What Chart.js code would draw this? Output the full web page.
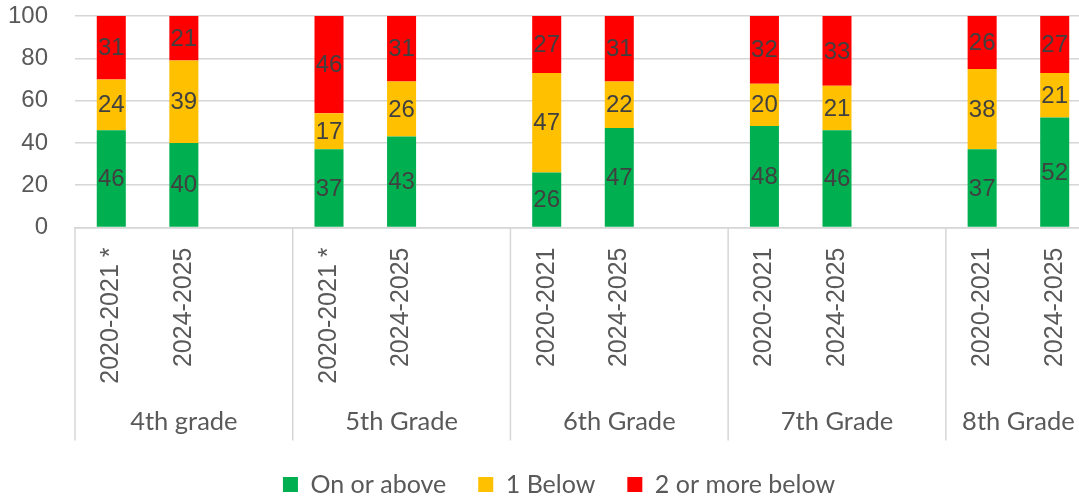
<!DOCTYPE html>
<html>
<head>
<meta charset="utf-8">
<script src="https://cdn.jsdelivr.net/npm/chart.js@4/dist/chart.umd.min.js"></script>
<style>
  html, body { margin: 0; padding: 0; background: #ffffff; overflow: hidden; }
  #wrap { position: absolute; left: 0; top: 0; width: 1118px; height: 507px; }
</style>
</head>
<body>
<div id="wrap"><canvas id="chart"></canvas></div>
<script>
// School years per grade; every grade block has three slots, the third left empty
const categories = [
  '2020-2021 *', '2024-2025', '',
  '2020-2021 *', '2024-2025', '',
  '2020-2021', '2024-2025', '',
  '2020-2021', '2024-2025', '',
  '2020-2021', '2024-2025'
];
const gradeGroups = ['4th grade', '5th Grade', '6th Grade', '7th Grade', '8th Grade'];
const slotsPerGrade = 3;

// Percent of students by level
const onOrAbove = [46, 40, null, 37, 43, null, 26, 47, null, 48, 46, null, 37, 52];
const oneBelow  = [24, 39, null, 17, 26, null, 47, 22, null, 20, 21, null, 38, 21];
const twoOrMore = [31, 21, null, 46, 31, null, 27, 31, null, 32, 33, null, 26, 27];

const seriesNames = ['On or above', '1 Below', '2 or more below'];
const seriesColors = ['#00B050', '#FFC000', '#FF0000'];
const yTicks = [0, 20, 40, 60, 80, 100];

const numFont = 'Liberation Sans, Arial, sans-serif';
const textFont = 'Lato, sans-serif';
const axisText = '#595959';
const lineGray = '#d6d6d6';

// Value labels centred on the visible part of each segment
const segmentLabels = {
  id: 'segmentLabels',
  afterDatasetsDraw(chart) {
    const { ctx, chartArea } = chart;
    ctx.save();
    ctx.font = '24px ' + numFont;
    ctx.fillStyle = '#404040';
    ctx.textAlign = 'center';
    ctx.textBaseline = 'middle';
    chart.data.datasets.forEach((ds, di) => {
      const meta = chart.getDatasetMeta(di);
      meta.data.forEach((bar, i) => {
        const v = ds.data[i];
        if (v === null || v === undefined) return;
        const p = bar.getProps(['x', 'y', 'base'], true);
        const top = Math.max(Math.min(p.y, p.base), chartArea.top);
        const bottom = Math.min(Math.max(p.y, p.base), chartArea.bottom);
        ctx.fillText(String(v), p.x, (top + bottom) / 2 + 1);
      });
    });
    ctx.restore();
  }
};

// Grade names and separators under the year labels
const gradeAxis = {
  id: 'gradeAxis',
  afterDraw(chart) {
    const { ctx } = chart;
    const xs = chart.scales.x;
    const n = categories.length;
    const half = (xs.getPixelForValue(1) - xs.getPixelForValue(0)) / 2;
    const lineTop = xs.top;
    const lineBottom = xs.top + 213;
    ctx.save();
    ctx.strokeStyle = lineGray;
    ctx.lineWidth = 1.5;
    ctx.font = '25.5px ' + textFont;
    ctx.fillStyle = axisText;
    ctx.textAlign = 'center';
    ctx.textBaseline = 'middle';
    gradeGroups.forEach((name, g) => {
      const first = g * slotsPerGrade;
      const last = Math.min(first + slotsPerGrade, n) - 1;
      const left = xs.getPixelForValue(first) - half;
      const right = xs.getPixelForValue(last) + half;
      ctx.beginPath();
      ctx.moveTo(left, lineTop);
      ctx.lineTo(left, lineBottom);
      if (g === gradeGroups.length - 1) {
        ctx.moveTo(right, lineTop);
        ctx.lineTo(right, lineBottom);
      }
      ctx.stroke();
      ctx.fillText(name, (left + right) / 2, xs.top + 194);
    });
    ctx.restore();
  }
};

const series = [onOrAbove, oneBelow, twoOrMore];

new Chart(document.getElementById('chart'), {
  type: 'bar',
  data: {
    labels: categories,
    datasets: series.map((values, k) => ({
      label: seriesNames[k],
      data: values,
      backgroundColor: seriesColors[k],
      borderWidth: 0,
      categoryPercentage: 1,
      barPercentage: 0.4
    }))
  },
  options: {
    responsive: true,
    maintainAspectRatio: false,
    animation: false,
    layout: { padding: { top: 16, left: 0, right: 0, bottom: 0 } },
    plugins: {
      tooltip: { enabled: false },
      legend: {
        position: 'bottom',
        labels: {
          font: { family: textFont, size: 25 },
          color: axisText,
          boxWidth: 15,
          boxHeight: 15,
          padding: 32
        }
      }
    },
    scales: {
      x: {
        stacked: true,
        grid: { display: false, drawTicks: false },
        border: { display: true, color: lineGray, width: 1.5 },
        ticks: {
          autoSkip: false,
          minRotation: 90,
          maxRotation: 90,
          padding: 20,
          color: axisText,
          font: { family: numFont, size: 25 }
        },
        afterFit(scale) { scale.height = 212.5; }
      },
      y: {
        stacked: true,
        min: 0,
        max: 100,
        grid: { color: lineGray, lineWidth: 1.5, drawTicks: true, tickLength: 27, tickColor: 'rgba(0,0,0,0)' },
        border: { display: false },
        ticks: {
          padding: 0,
          color: axisText,
          font: { family: numFont, size: 24 }
        },
        afterBuildTicks(scale) { scale.ticks = yTicks.map(v => ({ value: v })); },
        afterFit(scale) { scale.width = 75; }
      },
      gutter: {
        position: 'right',
        display: true,
        grid: { display: false },
        border: { display: false },
        ticks: { display: false },
        afterFit(scale) { scale.width = 27; }
      }
    }
  },
  plugins: [segmentLabels, gradeAxis]
});
</script>
</body>
</html>
